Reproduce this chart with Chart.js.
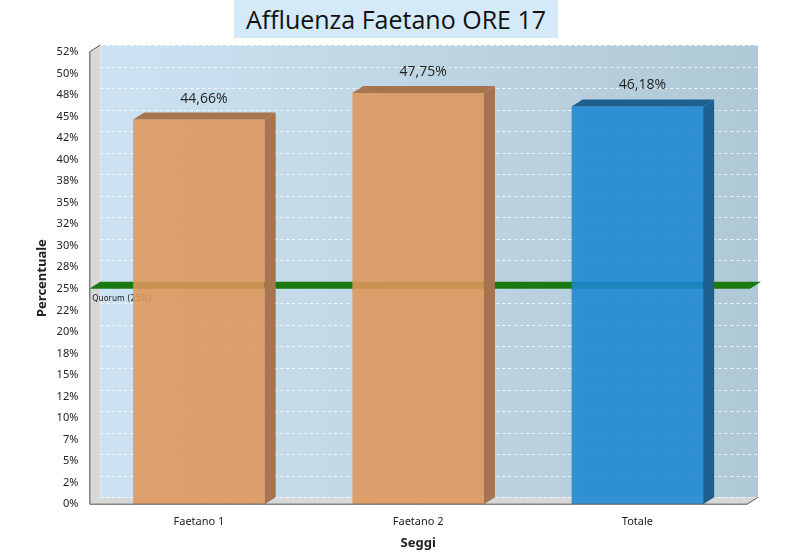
<!DOCTYPE html>
<html>
<head>
<meta charset="utf-8">
<script src="https://cdn.jsdelivr.net/npm/chart.js@4"></script>
<style>
  body { margin: 0; background: #fff; font-family: "Open Sans", "Noto Sans", sans-serif; }
  #wrap { position: relative; width: 790px; height: 559px; }
  #title { position: absolute; left: 234px; top: 0; width: 324px; height: 38px; background: #d4eaf8;
    text-align: center; font-size: 25px; line-height: 38px; color: #111; }
  canvas { position: absolute; left: 0; top: 0; }
</style>
</head>
<body>
<div id="wrap">
  <div id="title">Affluenza Faetano ORE 17</div>
  <canvas id="chart" width="790" height="559"></canvas>
</div>
<script>
const categories = ["Faetano 1", "Faetano 2", "Totale"];
const turnout = [44.66, 47.75, 46.18];
const valueLabels = ["44,66%", "47,75%", "46,18%"];
const tickLabels = ["0%", "2%", "5%", "7%", "10%", "12%", "15%", "18%", "20%", "22%", "25%",
  "28%", "30%", "32%", "35%", "38%", "40%", "42%", "45%", "48%", "50%", "52%"];
const quorum = 25;

const DX = 11, DY = 7;
const barFill = ["rgba(222,150,90,0.88)", "rgba(222,150,90,0.88)", "rgba(28,134,212,0.88)"];
const barSide = ["#a87450", "#a87450", "#1d5f8f"];

const scenery = {
  id: "scenery",
  beforeDatasetsDraw(chart) {
    const { ctx, chartArea: a, scales: { y } } = chart;
    ctx.save();
    // back wall
    const g = ctx.createLinearGradient(a.left, 0, a.right, 0);
    g.addColorStop(0, "#cde3f3");
    g.addColorStop(1, "#b0c9d6");
    ctx.fillStyle = g;
    ctx.fillRect(a.left + DX, a.top - DY, a.right - a.left, a.bottom - a.top);
    // left wall
    ctx.fillStyle = "#d8d8d8";
    ctx.beginPath();
    ctx.moveTo(a.left, a.top); ctx.lineTo(a.left + DX, a.top - DY);
    ctx.lineTo(a.left + DX, a.bottom - DY); ctx.lineTo(a.left, a.bottom); ctx.fill();
    // floor
    ctx.beginPath();
    ctx.moveTo(a.left, a.bottom); ctx.lineTo(a.left + DX, a.bottom - DY);
    ctx.lineTo(a.right + DX, a.bottom - DY); ctx.lineTo(a.right, a.bottom); ctx.fill();
    // grid
    ctx.strokeStyle = "rgba(255,255,255,0.8)";
    ctx.setLineDash([3, 3]);
    ctx.lineWidth = 1;
    y.ticks.forEach(t => {
      const py = Math.round(y.getPixelForValue(t.value) - DY) + 0.5;
      ctx.beginPath(); ctx.moveTo(a.left + DX, py); ctx.lineTo(a.right + DX, py); ctx.stroke();
    });
    ctx.setLineDash([]);
    // quorum band
    const qy = y.getPixelForValue(quorum);
    ctx.fillStyle = "#1a7a10";
    ctx.beginPath();
    ctx.moveTo(a.left, qy); ctx.lineTo(a.left + DX, qy - DY);
    ctx.lineTo(a.right + DX + 3, qy - DY); ctx.lineTo(a.right + 3, qy); ctx.fill();
    ctx.fillStyle = "#222";
    ctx.font = "8px 'DejaVu Sans'";
    ctx.fillText("Quorum (25%)", a.left + 3, qy + 12);
    ctx.restore();
  },
  afterDatasetsDraw(chart) {
    const { ctx } = chart;
    const meta = chart.getDatasetMeta(0);
    ctx.save();
    meta.data.forEach((bar, i) => {
      const l = bar.x - bar.width / 2, r = bar.x + bar.width / 2;
      ctx.fillStyle = barSide[i];
      ctx.beginPath();
      ctx.moveTo(r, bar.y); ctx.lineTo(r + DX, bar.y - DY);
      ctx.lineTo(r + DX, bar.base - DY); ctx.lineTo(r, bar.base); ctx.fill();
      ctx.beginPath();
      ctx.moveTo(l, bar.y); ctx.lineTo(l + DX, bar.y - DY);
      ctx.lineTo(r + DX, bar.y - DY); ctx.lineTo(r, bar.y); ctx.fill();
      ctx.fillStyle = "#222";
      ctx.font = "14px 'Open Sans'";
      ctx.textAlign = "center";
      ctx.fillText(valueLabels[i], bar.x + 5, bar.y - 17);
    });
    // axis lines
    const a = chart.chartArea;
    ctx.strokeStyle = "#555";
    ctx.beginPath();
    ctx.moveTo(a.left + 0.5, a.top); ctx.lineTo(a.left + 0.5, a.bottom); ctx.lineTo(a.right, a.bottom);
    ctx.lineTo(a.right + DX, a.bottom - DY);
    ctx.moveTo(a.left, a.top); ctx.lineTo(a.left + DX, a.top - DY);
    ctx.stroke();
    ctx.restore();
  }
};

new Chart(document.getElementById("chart"), {
  type: "bar",
  data: {
    labels: categories,
    datasets: [{ data: turnout, backgroundColor: barFill, barPercentage: 0.6, categoryPercentage: 1 }]
  },
  options: {
    responsive: false,
    animation: false,
    layout: { padding: { top: 52, right: 43, left: 30, bottom: 4 } },
    plugins: { legend: { display: false }, tooltip: { enabled: false } },
    scales: {
      x: {
        grid: { display: false }, border: { display: false },
        ticks: { color: "#222", font: { size: 11, family: "'Noto Sans'" } },
        title: { display: true, text: "Seggi", color: "#222", font: { size: 13, weight: "bold", family: "'Noto Sans'" } }
      },
      y: {
        min: 0, max: 52.5,
        afterBuildTicks(s) { s.ticks = tickLabels.map((_, i) => ({ value: i * 2.5 })); },
        grid: { display: false }, border: { display: false },
        ticks: { color: "#222", font: { size: 11, family: "'Noto Sans'" }, callback: (v, i) => tickLabels[i] },
        title: { display: true, text: "Percentuale", color: "#222", font: { size: 13, weight: "bold", family: "'Noto Sans'" } }
      }
    }
  },
  plugins: [scenery]
});
</script>
</body>
</html>
